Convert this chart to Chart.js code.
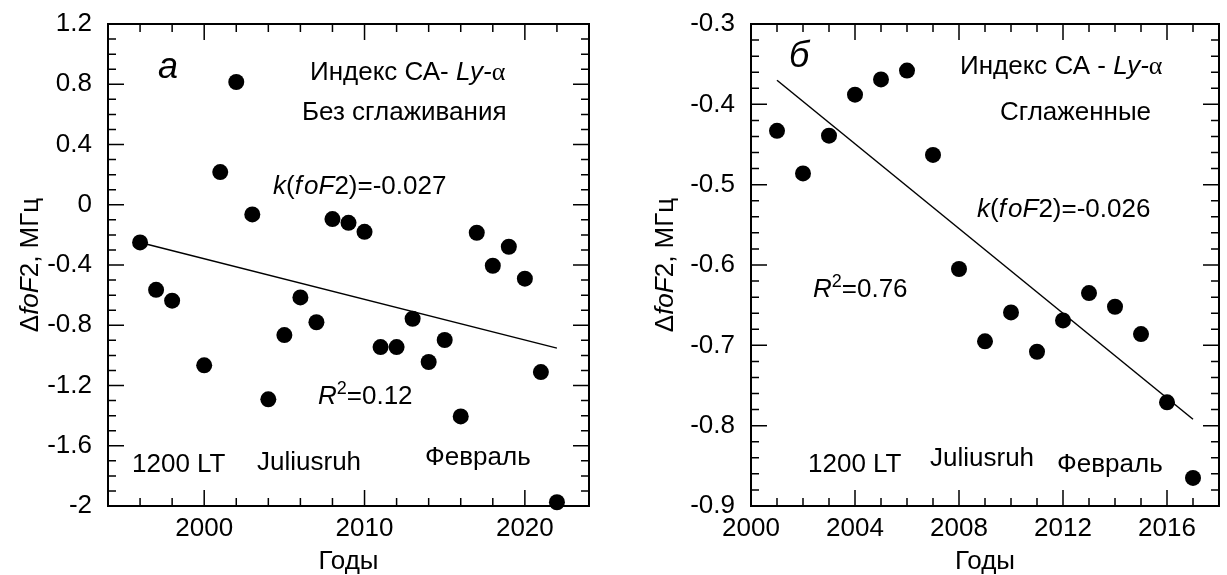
<!DOCTYPE html>
<html>
<head>
<meta charset="utf-8">
<script src="https://cdn.jsdelivr.net/npm/chart.js@4/dist/chart.umd.min.js"></script>
<style>
  body { margin: 0; background: #fff; }
  canvas { position: absolute; top: 0; }
  #chartA { left: 0; }
  #chartB { left: 613px; }
</style>
</head>
<body>
<canvas id="chartA" width="613" height="575"></canvas>
<canvas id="chartB" width="614" height="575"></canvas>
<script>
// panel а: yearly values, no smoothing
const yearsA = [1996, 1997, 1998, 2000, 2001, 2002, 2003, 2004, 2005, 2006, 2007, 2008, 2009,
                2010, 2011, 2012, 2013, 2014, 2015, 2016, 2017, 2018, 2019, 2020, 2021, 2022];
const dfoF2A = [-0.25, -0.565, -0.637, -1.066, 0.217, 0.815, -0.064, -1.292, -0.865, -0.615, -0.78, -0.095, -0.12,
                -0.18, -0.945, -0.945, -0.757, -1.044, -0.898, -1.405, -0.186, -0.405, -0.279, -0.491, -1.111, -1.975];
const trendYearsA = [1996, 2022];
const trendA = [-0.25, -0.952];
const xTicksA = [2000, 2010, 2020];
const yTicksA = [-2, -1.6, -1.2, -0.8, -0.4, 0, 0.4, 0.8, 1.2];

// panel б: smoothed values
const yearsB = [2001, 2002, 2003, 2004, 2005, 2006, 2007, 2008, 2009, 2010, 2011, 2012, 2013, 2014, 2015, 2016, 2017];
const dfoF2B = [-0.433, -0.486, -0.439, -0.388, -0.369, -0.358, -0.463, -0.605, -0.695, -0.659, -0.708, -0.669,
                -0.635, -0.652, -0.686, -0.771, -0.865];
const trendYearsB = [2001, 2017];
const trendB = [-0.370, -0.792];
const xTicksB = [2000, 2004, 2008, 2012, 2016];
const yTicksB = [-0.9, -0.8, -0.7, -0.6, -0.5, -0.4, -0.3];

const SANS = 'Arial, "Liberation Sans", Helvetica, sans-serif';
const SERIF = '"Liberation Serif", "Times New Roman", serif';
const FS = 26;

function pts(xs, ys) {
  return xs.map((x, i) => ({ x: x, y: ys[i] }));
}

// text runs: n = normal, i = italic, s = superscript, g = greek
function fontFor(st, size) {
  const sz = st === 's' ? Math.round(size * 0.7) : size;
  return (st === 'i' ? 'italic ' : '') + sz + 'px ' + (st === 'g' ? SERIF : SANS);
}
function richWidth(ctx, runs, size) {
  let w = 0;
  for (const [t, st] of runs) {
    ctx.font = fontFor(st, size);
    w += ctx.measureText(t).width;
  }
  return w;
}
function drawRich(ctx, runs, x, y, size) {
  let cx = x;
  for (const [t, st] of runs) {
    ctx.font = fontFor(st, size);
    ctx.fillText(t, cx, st === 's' ? y - size * 0.3 : y);
    cx += ctx.measureText(t).width;
  }
}

function onStep(v, step) {
  const r = v / step;
  return Math.abs(r - Math.round(r)) < 1e-6;
}

const framePlugin = {
  id: 'frame',
  beforeDatasetsDraw(chart, args, o) {
    const { ctx, chartArea: a } = chart;
    const xs = chart.scales.x, ys = chart.scales.y;
    ctx.save();
    ctx.strokeStyle = '#000';
    ctx.lineWidth = 1.5;
    ctx.beginPath();
    const nx = Math.round((xs.max - xs.min) / o.xMinor);
    for (let i = 1; i < nx; i++) {
      const v = xs.min + i * o.xMinor;
      const px = xs.getPixelForValue(v);
      const len = onStep(v, o.xMajor) ? 16 : 8;
      ctx.moveTo(px, a.bottom); ctx.lineTo(px, a.bottom - len);
      ctx.moveTo(px, a.top); ctx.lineTo(px, a.top + len);
    }
    const ny = Math.round((ys.max - ys.min) / o.yMinor);
    for (let i = 1; i < ny; i++) {
      const v = ys.min + i * o.yMinor;
      const py = ys.getPixelForValue(v);
      const len = onStep(v + 10, o.yMajor) ? 16 : 8;
      ctx.moveTo(a.left, py); ctx.lineTo(a.left + len, py);
      ctx.moveTo(a.right, py); ctx.lineTo(a.right - len, py);
    }
    ctx.stroke();
    ctx.lineWidth = 2;
    ctx.strokeRect(a.left, a.top, a.width, a.height);
    ctx.restore();
  },
  afterDatasetsDraw(chart, args, o) {
    const { ctx, chartArea: a } = chart;
    ctx.save();
    ctx.fillStyle = '#000';
    ctx.textBaseline = 'middle';
    ctx.textAlign = 'left';
    for (const n of o.notes) {
      drawRich(ctx, n.runs, n.x, n.y, n.size || FS);
    }
    // rotated y axis title
    const title = [['Δ', 'n'], ['foF', 'i'], ['2, МГц', 'n']];
    const w = richWidth(ctx, title, FS);
    ctx.translate(o.yTitleX, (a.top + a.bottom) / 2);
    ctx.rotate(-Math.PI / 2);
    drawRich(ctx, title, -w / 2, 0, FS);
    ctx.restore();
  }
};

function makeChart(id, d) {
  const tickFont = { family: SANS, size: FS };
  return new Chart(document.getElementById(id), {
    type: 'scatter',
    data: {
      datasets: [
        {
          data: pts(d.years, d.values),
          pointRadius: 8,
          pointHoverRadius: 8,
          pointBackgroundColor: '#000',
          pointBorderWidth: 0,
          clip: false
        },
        {
          type: 'line',
          data: pts(d.trendYears, d.trend),
          borderColor: '#000',
          borderWidth: 1.5,
          pointRadius: 0,
          fill: false
        }
      ]
    },
    options: {
      responsive: false,
      animation: false,
      layout: { padding: d.padding },
      plugins: {
        legend: { display: false },
        tooltip: { enabled: false },
        frame: d.frame
      },
      scales: {
        x: {
          type: 'linear',
          min: d.xMin,
          max: d.xMax,
          afterBuildTicks: s => { s.ticks = d.xTicks.map(v => ({ value: v })); },
          afterFit: s => { s.height = d.xHeight; },
          grid: { display: false },
          border: { display: false },
          ticks: {
            font: tickFont,
            color: '#000',
            padding: -1,
            maxRotation: 0,
            autoSkip: false,
            callback: v => String(v)
          },
          title: {
            display: true,
            text: 'Годы',
            color: '#000',
            font: { family: SANS, size: FS, lineHeight: 1 },
            padding: 0
          }
        },
        y: {
          type: 'linear',
          min: d.yMin,
          max: d.yMax,
          afterBuildTicks: s => { s.ticks = d.yTicks.map(v => ({ value: v })); },
          afterFit: s => { s.width = d.yWidth; },
          grid: { display: false },
          border: { display: false },
          ticks: {
            font: tickFont,
            color: '#000',
            padding: 8,
            autoSkip: false,
            callback: v => String(Math.round(v * 10) / 10)
          }
        }
      }
    },
    plugins: [framePlugin]
  });
}

makeChart('chartA', {
  years: yearsA, values: dfoF2A, trendYears: trendYearsA, trend: trendA,
  xMin: 1994, xMax: 2024, yMin: -2, yMax: 1.2,
  xTicks: xTicksA, yTicks: yTicksA,
  padding: { left: 0, top: 24, right: 24, bottom: 0 },
  xHeight: 69, yWidth: 108,
  frame: {
    xMinor: 2, xMajor: 10, yMinor: 0.1, yMajor: 0.4, yTitleX: 31,
    notes: [
      { runs: [['а', 'i']], x: 158, y: 68, size: 36 },
      { runs: [['Индекс СА- ', 'n'], ['Ly-', 'i'], ['α', 'g']], x: 310, y: 73 },
      { runs: [['Без сглаживания', 'n']], x: 302, y: 113 },
      { runs: [['k', 'i'], ['(', 'n'], ['f\u200AoF', 'i'], ['2)=-0.027', 'n']], x: 273, y: 187 },
      { runs: [['R', 'i'], ['2', 's'], ['=0.12', 'n']], x: 318, y: 397 },
      { runs: [['1200 LT', 'n']], x: 132, y: 465 },
      { runs: [['Juliusruh', 'n']], x: 257, y: 463 },
      { runs: [['Февраль', 'n']], x: 425, y: 458 }
    ]
  }
});

makeChart('chartB', {
  years: yearsB, values: dfoF2B, trendYears: trendYearsB, trend: trendB,
  xMin: 2000, xMax: 2018, yMin: -0.9, yMax: -0.3,
  xTicks: xTicksB, yTicks: yTicksB,
  padding: { left: 0, top: 24, right: 1, bottom: 0 },
  xHeight: 69, yWidth: 138,
  frame: {
    xMinor: 1, xMajor: 4, yMinor: 0.02, yMajor: 0.1, yTitleX: 53,
    notes: [
      { runs: [['б', 'i']], x: 176, y: 57, size: 36 },
      { runs: [['Индекс СА - ', 'n'], ['Ly-', 'i'], ['α', 'g']], x: 347, y: 67 },
      { runs: [['Сглаженные', 'n']], x: 387, y: 113 },
      { runs: [['k', 'i'], ['(', 'n'], ['f\u200AoF', 'i'], ['2)=-0.026', 'n']], x: 364, y: 210 },
      { runs: [['R', 'i'], ['2', 's'], ['=0.76', 'n']], x: 200, y: 290 },
      { runs: [['1200 LT', 'n']], x: 195, y: 465 },
      { runs: [['Juliusruh', 'n']], x: 317, y: 459 },
      { runs: [['Февраль', 'n']], x: 444, y: 465 }
    ]
  }
});
</script>
</body>
</html>
